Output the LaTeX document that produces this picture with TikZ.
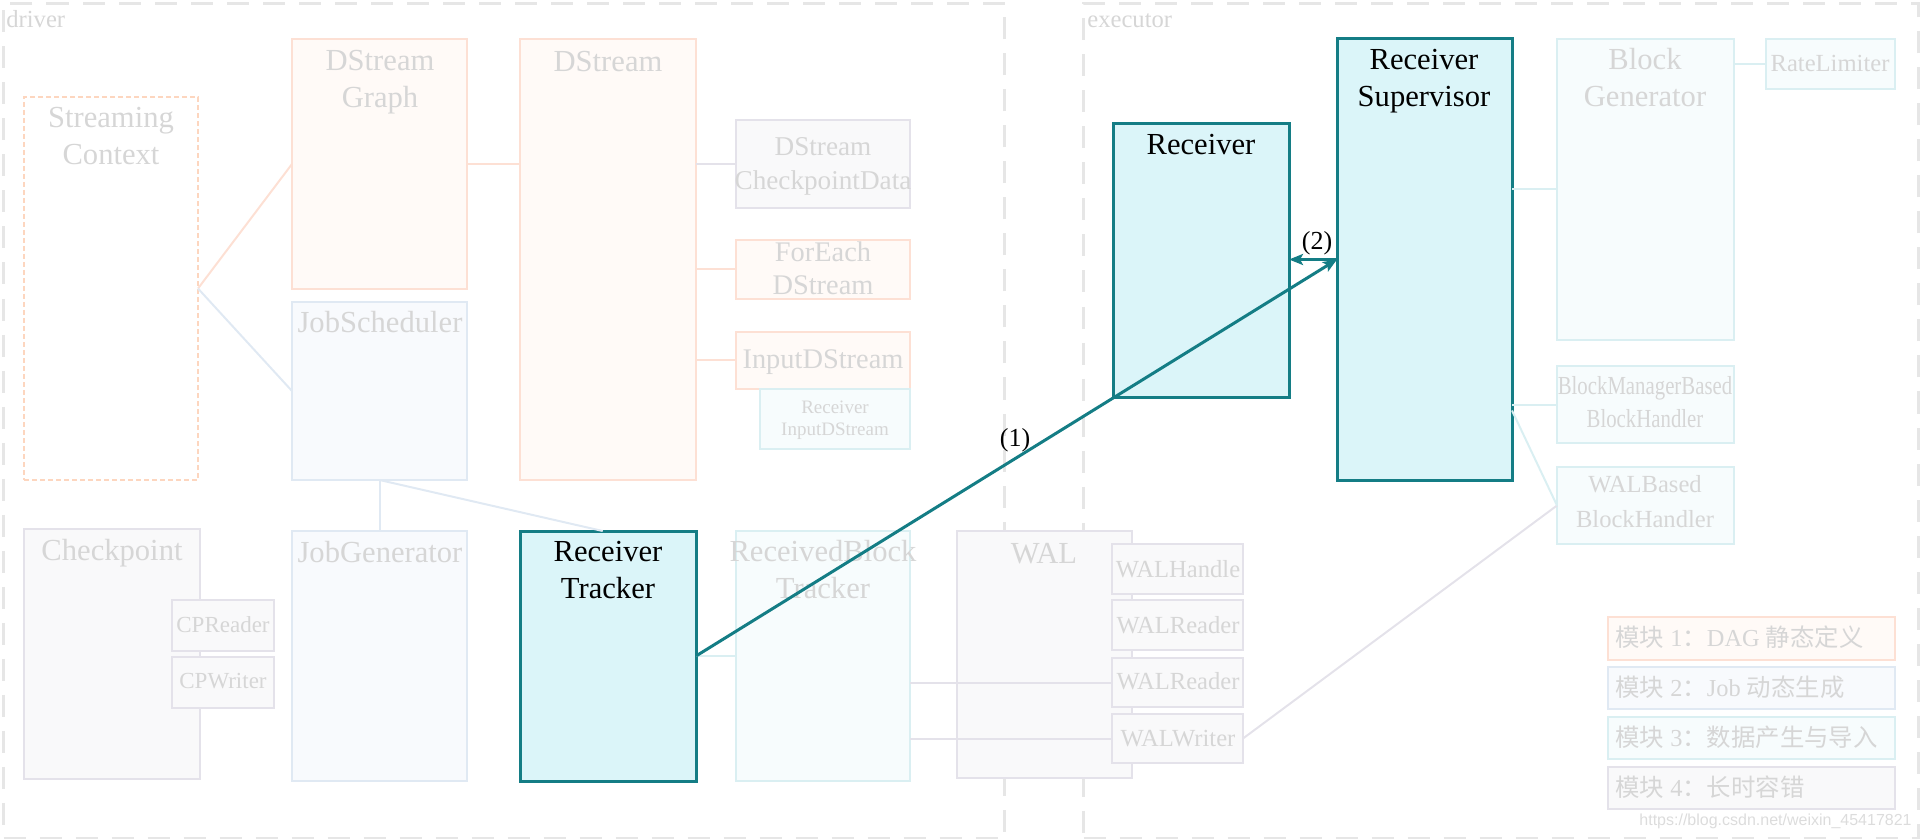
\documentclass[tikz,border=0pt]{standalone}
\usepackage{fontspec}
\setmainfont{Liberation Serif}
\setsansfont{Liberation Sans}
\newfontfamily\cjk{Noto Sans CJK SC}
\usetikzlibrary{arrows.meta,calc}
\definecolor{tealD}{RGB}{20,125,133}
\definecolor{tealF}{RGB}{219,245,249}
\definecolor{oB}{RGB}{253,224,212}
\definecolor{oF}{RGB}{255,250,247}
\definecolor{bB}{RGB}{224,233,243}
\definecolor{bF}{RGB}{248,250,253}
\definecolor{tB}{RGB}{218,239,242}
\definecolor{tF}{RGB}{247,252,253}
\definecolor{gB}{RGB}{228,226,234}
\definecolor{gF}{RGB}{249,249,250}
\definecolor{txtG}{RGB}{214,214,214}
\definecolor{dashG}{RGB}{230,230,230}
\newcommand\fs[2]{\fontsize{#1}{#2}\selectfont}
\newcommand\mybox[6]{\node[#1, minimum width={(#5-#3)*0.5pt}, minimum height={(#6-#4)*0.5pt}] (#2) at (#3,#4) {};}
\tikzset{
  bx/.style={draw, line width=1.1pt, inner sep=0pt, outer sep=0pt, anchor=north west, rectangle},
  m1/.style={bx, draw=oB, fill=oF},
  m2/.style={bx, draw=bB, fill=bF},
  m3/.style={bx, draw=tB, fill=tF},
  m4/.style={bx, draw=gB, fill=gF},
  hl/.style={bx, draw=tealD, fill=tealF, line width=1.5pt},
  scbox/.style={bx, draw=oB!90!orange, dash pattern=on 2.5pt off 1.5pt, line width=1pt},
  outer/.style={draw=dashG, line width=1.5pt, dash pattern=on 11pt off 7pt},
  ft/.style={text=txtG, inner sep=0pt, anchor=base, align=center, font=\fs{15.3}{18.5}},
  fm/.style={ft, font=\fs{14.2}{16.5}},
  fsm/.style={ft, font=\fs{12.3}{15}},
  fhl/.style={ft, text=black},
  c1/.style={draw=oB, line width=1pt},
  c2/.style={draw=bB, line width=1pt},
  c3/.style={draw=tB, line width=1pt},
  c4/.style={draw=gB, line width=1pt},
  arr/.style={draw=tealD, line width=1.5pt, -{Stealth[length=7pt,width=5.5pt,inset=1.5pt]}},
  lbl/.style={inner sep=0pt, font=\fs{13}{15}, text=black},
}
\begin{document}
\begin{tikzpicture}[x=0.5pt,y=-0.5pt]
\useasboundingbox (0,0) rectangle (1920,839);
% outer regions
\node[outer, anchor=north west, minimum width=500.5pt, minimum height=417.5pt, inner sep=0pt] (driver) at (2,2) {};
\node[outer, anchor=north west, minimum width=417.5pt, minimum height=417.5pt, inner sep=0pt] (executor) at (1082,2) {};
\node[text=txtG, font=\fs{12.3}{14}, anchor=base west, inner sep=0pt] (driverl) at (6,28) {driver};
\node[text=txtG, font=\fs{12.3}{14}, anchor=base west, inner sep=0pt] (executorl) at (1087,28) {executor};

% boxes
\mybox{scbox}{sc}{24}{97}{198}{480}
\mybox{m1}{dsg}{292}{39}{467}{289}
\mybox{m2}{js}{292}{302}{467}{480}
\mybox{m1}{ds}{520}{39}{696}{480}
\mybox{m4}{cd}{736}{120}{910}{208}
\mybox{m1}{fe}{736}{240}{910}{299}
\mybox{m1}{ids}{736}{332}{910}{389}
\mybox{m3}{rids}{760}{389}{910}{449}
\mybox{m4}{cp}{24}{529}{200}{779}
\mybox{m4}{cpr}{172}{600}{274}{651}
\mybox{m4}{cpw}{172}{657}{274}{708}
\mybox{m2}{jg}{292}{531}{467}{781}
\mybox{hl}{rt}{520}{531}{696}{781}
\mybox{m3}{rbt}{736}{531}{910}{781}
\mybox{m4}{wal}{957}{531}{1132}{778}
\mybox{hl}{rec}{1113}{124}{1289}{397}
\mybox{hl}{rs}{1337}{39}{1512}{480}
\mybox{m3}{bg}{1557}{39}{1734}{340}
\mybox{m3}{rl}{1766}{39}{1895}{89}
\mybox{m3}{bmb}{1557}{366}{1734}{443}
\mybox{m3}{wb}{1557}{467}{1734}{544}
\mybox{m1}{leg1}{1608}{617}{1895}{660}
\mybox{m2}{leg2}{1608}{667}{1895}{709}
\mybox{m3}{leg3}{1608}{717}{1895}{759}
\mybox{m4}{leg4}{1608}{767}{1895}{809}

% faint connectors
\draw[c1] (sc.east) -- (dsg.west);
\draw[c2] (sc.east) -- (js.west);
\draw[c1] (dsg.east) -- (dsg.east -| ds.west);
\draw[c4] (ds.east |- cd.west) -- (cd.west);
\draw[c1] (ds.east |- fe.west) -- (fe.west);
\draw[c1] (ds.east |- ids.west) -- (ids.west);
\draw[c2] (js.south) -- (jg.north);
\draw[c2] (js.south) -- ($(rt.north west)!0.47!(rt.north east)$);
\draw[c3] (rt.east) -- (rt.east -| rbt.west);

% WAL sub boxes
\mybox{m4}{wh}{1112}{544}{1243}{594}
\mybox{m4}{wr1}{1112}{600}{1243}{650}
\mybox{m4}{wr2}{1112}{658}{1243}{707}
\mybox{m4}{ww}{1112}{714}{1243}{763}
\draw[c4] (rbt.east |- wr2.west) -- (wr2.west);
\draw[c4] (rbt.east |- ww.west) -- (ww.west);
\draw[c4] (ww.east) -- (wb.west);
\draw[c3] (rs.east |- bg.west) -- (bg.west);
\draw[c3] (bg.east |- rl.west) -- (rl.west);
\draw[c3] (rs.east |- bmb.west) -- (bmb.west);
\draw[c3] ([yshift=-3pt]rs.east |- bmb.west) -- (wb.west);

% texts (anchor base = baseline of last line)
\node[ft] (sct) at (111,165) {Streaming\\Context};
\node[ft] (dsgt) at (380,108) {DStream\\Graph};
\node[ft] (dst) at (608,72) {DStream};
\node[ft] (jst) at (380,333) {JobScheduler};
\node[fm, font=\fs{13.6}{17}] (cdt) at (823,190) {DStream\\CheckpointData};
\node[fm] (fet) at (823,295) {ForEach\\DStream};
\node[fm] (idst) at (823,368) {InputDStream};
\node[ft, font=\fs{9.5}{11}] (ridst) at (835,435) {Receiver\\InputDStream};
\node[ft] (cpt) at (112,560) {Checkpoint};
\node[ft, font=\fs{11.5}{14}] (cprt) at (223,632) {CPReader};
\node[ft, font=\fs{11.5}{14}] (cpwt) at (223,688) {CPWriter};
\node[ft] (jgt) at (380,562) {JobGenerator};
\node[fhl] (rtt) at (608,598) {Receiver\\Tracker};
\node[ft] (rbtt) at (823,598) {ReceivedBlock\\Tracker};
\node[ft] (walt) at (1044,563) {WAL};
\node[fsm] (wht) at (1178,577) {WALHandle};
\node[fsm] (wr1t) at (1178,633) {WALReader};
\node[fsm] (wr2t) at (1178,689) {WALReader};
\node[fsm] (wwt) at (1178,746) {WALWriter};
\node[fhl] (rect) at (1201,155) {Receiver};
\node[fhl] (rst) at (1424,107) {Receiver\\Supervisor};
\node[ft] (bgt) at (1645,107) {Block\\Generator};
\node[fsm] (rlt) at (1830,72) {RateLimiter};
\node[ft, font=\fs{13}{16.5}] (bmbt) at (1645,427) {\scalebox{0.8}[1]{BlockManagerBased}\\\scalebox{0.8}[1]{BlockHandler}};
\node[fsm, font=\fs{12.3}{17.5}] (wbt) at (1645,527) {WALBased\\BlockHandler};
\node[ft, font=\fs{12.2}{14}, anchor=base west] (leg1t) at (1615,646) {{\cjk 模块} 1{\cjk ：}DAG {\cjk 静态定义}};
\node[ft, font=\fs{12.2}{14}, anchor=base west] (leg2t) at (1615,696) {{\cjk 模块} 2{\cjk ：}Job {\cjk 动态生成}};
\node[ft, font=\fs{12.2}{14}, anchor=base west] (leg3t) at (1615,746) {{\cjk 模块} 3{\cjk ：数据产生与导入}};
\node[ft, font=\fs{12.2}{14}, anchor=base west] (leg4t) at (1615,796) {{\cjk 模块} 4{\cjk ：长时容错}};
\node[text=txtG!85!white, font=\sffamily\fs{8}{9}, anchor=base east, inner sep=0pt] (wm) at (1912,825) {https://blog.csdn.net/weixin\_45417821};

% main arrows
\draw[arr] (rt.east) -- (rs.west);
\draw[arr] (rs.west) -- (rs.west -| rec.east);
\node[lbl] (l1) at (1015,440) {(1)};
\node[lbl] (l2) at (1317,243) {(2)};
\end{tikzpicture}
\end{document}
